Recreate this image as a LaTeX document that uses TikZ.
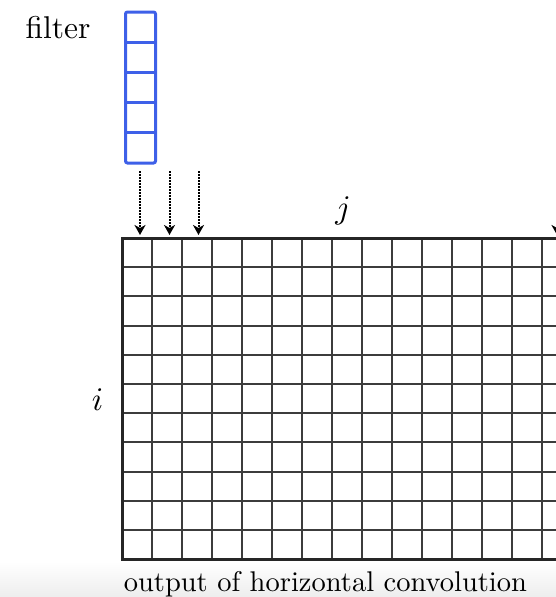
\documentclass[tikz,border=0pt]{standalone}
\usetikzlibrary{arrows.meta}
\definecolor{filterblue}{RGB}{62,96,232}
\definecolor{gridline}{RGB}{60,60,60}
\begin{document}
\begin{tikzpicture}[x=1pt,y=-1pt,
  gridthin/.style={draw=gridline, line width=2pt},
  gridframe/.style={draw=black!85, line width=3pt},
  filtercell/.style={draw=filterblue, line width=3pt},
  dotarrow/.style={densely dotted, line width=2pt, -{Stealth[length=10pt,width=11pt,inset=3pt]}},
  lbl/.style={font=\fontsize{10}{12}\selectfont, inner sep=0pt, scale=3.15},
  mathlbl/.style={font=\fontsize{10}{12}\selectfont, inner sep=0pt, scale=3.3},
  caption/.style={font=\fontsize{10}{12}\selectfont, inner sep=0pt, scale=2.85},
]
\useasboundingbox (0,0) rectangle (556,597);
\shade[top color=white, bottom color=gray!14] (0,562) rectangle (556,597);
\begin{scope}
  \clip (0,0) rectangle (556,597);
  \foreach \k in {1,...,15} \draw[gridthin] (122+30*\k,238) -- (122+30*\k,559);
  \foreach \yy in {267,296,326,355,384,413,442,472,501,530} \draw[gridthin] (122,\yy) -- (600,\yy);
  \draw[gridframe] (600,238) -- (122.5,238) -- (122.5,559) -- (600,559);
  % arrows
  \coordinate (s1) at (140,171); \coordinate (e1) at (140,235);
  \coordinate (s2) at (169.5,171); \coordinate (e2) at (169.5,235);
  \coordinate (s3) at (198.5,171); \coordinate (e3) at (198.5,235);
  \coordinate (s4) at (557,171); \coordinate (e4) at (557,235);
  \draw[dotarrow] (s1) -- (e1);
  \draw[dotarrow] (s2) -- (e2);
  \draw[dotarrow] (s3) -- (e3);
  \draw[dotarrow] (s4) -- (e4);
\end{scope}
% filter
\foreach \k in {1,...,4} \draw[filtercell] (125.5,12+30.2*\k) -- (155.5,12+30.2*\k);
\draw[filtercell, rounded corners=2pt] (125.5,12) rectangle (155.5,163);
% labels
\node[lbl, anchor=base west] (filterlbl) at (25,38.5) {filter};
\node[mathlbl] (jlbl) at (343,211) {$j$};
\node[mathlbl] (ilbl) at (97.5,400) {$i$};
\node[caption, anchor=base] (outlbl) at (325.4,591.5) {output of horizontal convolution};
\end{tikzpicture}
\end{document}
